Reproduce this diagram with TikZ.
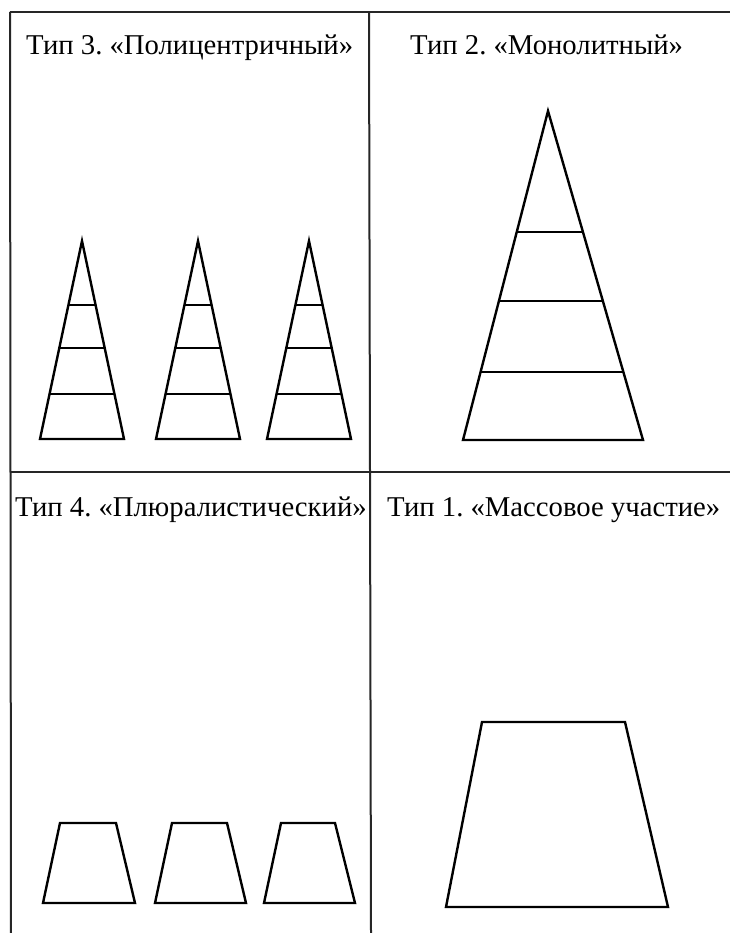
\documentclass[tikz,border=0pt]{standalone}
\usepackage{fontspec}
\setmainfont{Liberation Serif}
\usepackage{tikz}
\usepackage{xcolor}
\frenchspacing

\begin{document}
\begin{tikzpicture}[x=1pt,y=-1pt,
  frame/.style={line width=2pt,black!85},
  outline/.style={line width=2.4pt,black,line join=miter},
  title/.style={anchor=base west,inner sep=0pt,font=\fontsize{28.7}{32}\selectfont}]
\useasboundingbox (0,0) rectangle (730,933);
% frame
\draw[frame] (10,12) -- (730,12);
\draw[frame] (10,472) -- (730,472);
\draw[frame] (10,12) -- (11,933);
\draw[frame] (369,12) -- (371,933);
% titles
\node[title] (t3) at (26,55) {Тип 3. «Полицентричный»};
\node[title] (t2) at (410,55) {Тип 2. «Монолитный»};
\node[title] (t4) at (15,516) {Тип 4. «Плюралистический»};
\node[title] (t1) at (387,516) {Тип 1. «Массовое участие»};
% type 3: three small pyramids
\draw[outline] (82,241) -- (124,439) -- (40,439) -- cycle;
\draw[outline] (69,305) -- (95,305);
\draw[outline] (59.5,348) -- (104.5,348);
\draw[outline] (50,394) -- (114,394);
\draw[outline] (198,241) -- (240,439) -- (156,439) -- cycle;
\draw[outline] (185,305) -- (211,305);
\draw[outline] (175.5,348) -- (220.5,348);
\draw[outline] (166,394) -- (230,394);
\draw[outline] (309,241) -- (351,439) -- (267,439) -- cycle;
\draw[outline] (296,305) -- (322,305);
\draw[outline] (286.5,348) -- (331.5,348);
\draw[outline] (277,394) -- (341,394);
% type 2: one big pyramid
\draw[outline] (548,111) -- (643,440) -- (463,440) -- cycle;
\draw[outline] (517,232) -- (583,232);
\draw[outline] (499,301) -- (603,301);
\draw[outline] (481,372) -- (623,372);
% type 4: three small trapezoids
\draw[outline] (60,823) -- (116,823) -- (135,903) -- (43,903) -- cycle;
\draw[outline] (172,823) -- (227,823) -- (246,903) -- (155,903) -- cycle;
\draw[outline] (281,823) -- (335,823) -- (355,903) -- (264,903) -- cycle;
% type 1: one big trapezoid
\draw[outline] (482,722) -- (625,722) -- (668,907) -- (446,907) -- cycle;
\end{tikzpicture}
\end{document}
